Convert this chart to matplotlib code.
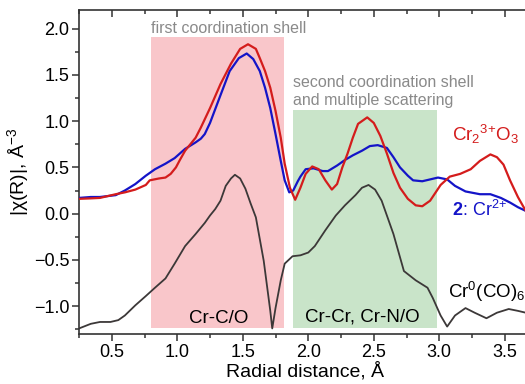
import matplotlib
matplotlib.use('Agg')
import matplotlib.pyplot as plt
from matplotlib.ticker import MultipleLocator

plt.rcParams['font.family'] = ['Liberation Sans', 'DejaVu Sans']
plt.rcParams['mathtext.fontset'] = 'custom'
plt.rcParams['mathtext.rm'] = 'Liberation Sans'
plt.rcParams['mathtext.it'] = 'Liberation Sans:italic'
plt.rcParams['mathtext.bf'] = 'Liberation Sans:bold'

# Cr2O3 (red)
r_red = [0.25, 0.34, 0.41, 0.53, 0.60, 0.68, 0.76, 0.79, 0.86, 0.91, 0.95, 0.99, 1.02, 1.06, 1.10, 1.14,
         1.18, 1.25, 1.33, 1.41, 1.48, 1.54, 1.60, 1.63, 1.67, 1.71, 1.75, 1.79, 1.82, 1.86, 1.90, 1.94,
         1.98, 2.03, 2.08, 2.13, 2.18, 2.22, 2.26, 2.30, 2.34, 2.38, 2.45, 2.50, 2.55, 2.60, 2.65, 2.70,
         2.76, 2.82, 2.87, 2.93, 3.01, 3.08, 3.16, 3.24, 3.31, 3.39, 3.44, 3.49, 3.54, 3.60, 3.66]
chi_red = [0.16, 0.165, 0.17, 0.21, 0.23, 0.26, 0.31, 0.36, 0.38, 0.39, 0.43, 0.50, 0.58, 0.68, 0.75, 0.82,
           0.93, 1.14, 1.40, 1.62, 1.78, 1.83, 1.78, 1.68, 1.54, 1.36, 1.11, 0.82, 0.54, 0.28, 0.15, 0.28,
           0.43, 0.51, 0.48, 0.36, 0.26, 0.32, 0.50, 0.65, 0.82, 0.97, 1.04, 0.98, 0.84, 0.65, 0.44, 0.28,
           0.16, 0.09, 0.08, 0.14, 0.31, 0.40, 0.43, 0.48, 0.57, 0.64, 0.61, 0.53, 0.36, 0.18, 0.03]

# sample 2, Cr2+ (blue)
r_blue = [0.25, 0.34, 0.41, 0.53, 0.60, 0.68, 0.76, 0.83, 0.91, 0.98, 1.06, 1.14, 1.18, 1.21, 1.25, 1.33,
          1.40, 1.47, 1.53, 1.58, 1.63, 1.67, 1.71, 1.75, 1.79, 1.82, 1.855, 1.885, 1.92, 1.94, 1.98, 2.04,
          2.11, 2.15, 2.22, 2.28, 2.34, 2.41, 2.47, 2.53, 2.60, 2.65, 2.70, 2.76, 2.80, 2.87, 2.93, 2.99,
          3.06, 3.12, 3.20, 3.31, 3.39, 3.47, 3.54, 3.60, 3.66]
chi_blue = [0.17, 0.18, 0.18, 0.20, 0.25, 0.32, 0.41, 0.48, 0.54, 0.60, 0.70, 0.77, 0.81, 0.86, 0.98, 1.28,
            1.54, 1.68, 1.73, 1.67, 1.54, 1.36, 1.14, 0.86, 0.57, 0.36, 0.23, 0.25, 0.35, 0.40, 0.48, 0.49,
            0.46, 0.46, 0.52, 0.58, 0.63, 0.68, 0.73, 0.74, 0.71, 0.61, 0.50, 0.41, 0.36, 0.35, 0.37, 0.39,
            0.37, 0.30, 0.24, 0.21, 0.21, 0.17, 0.12, 0.07, 0.03]

# Cr0(CO)6 (dark grey)
r_co = [0.25, 0.34, 0.41, 0.49, 0.55, 0.60, 0.68, 0.76, 0.83, 0.91, 0.98, 1.06, 1.14, 1.21, 1.25, 1.29,
        1.33, 1.37, 1.41, 1.44, 1.48, 1.52, 1.56, 1.60, 1.66, 1.71, 1.725, 1.75, 1.79, 1.82, 1.88, 1.94,
        2.00, 2.05, 2.13, 2.21, 2.28, 2.36, 2.41, 2.46, 2.51, 2.56, 2.65, 2.73, 2.82, 2.91, 2.95, 3.01,
        3.06, 3.12, 3.20, 3.27, 3.36, 3.44, 3.53, 3.60, 3.66]
chi_co = [-1.24, -1.19, -1.17, -1.17, -1.15, -1.10, -0.99, -0.89, -0.80, -0.70, -0.54, -0.35, -0.22, -0.10,
          -0.02, 0.05, 0.14, 0.30, 0.38, 0.42, 0.38, 0.27, 0.11, -0.04, -0.51, -1.05, -1.24, -1.02, -0.72,
          -0.54, -0.46, -0.45, -0.42, -0.35, -0.18, -0.02, 0.09, 0.20, 0.28, 0.31, 0.26, 0.14, -0.22, -0.62,
          -0.72, -0.80, -0.91, -1.10, -1.22, -1.10, -1.02, -1.07, -1.13, -1.07, -1.03, -1.05, -1.07]

# shaded shells: (x0, x1, top)
shell1 = (0.80, 1.815, 1.91)
shell2 = (1.885, 2.98, 1.115)
shell_bottom = -1.23

red = '#d41c1c'
blue = '#1414c8'

fig = plt.figure(figsize=(5.25, 3.84), dpi=100)
ax = fig.add_axes([79/525, 50/384, 452/525, 324/384])

ax.fill_between([shell1[0], shell1[1]], shell_bottom, shell1[2], color='#f9c6ca', lw=0, zorder=0)
ax.fill_between([shell2[0], shell2[1]], shell_bottom, shell2[2], color='#c9e4c9', lw=0, zorder=0)

ax.plot(r_co, chi_co, color='#3c3838', lw=1.3, zorder=2, solid_joinstyle='round')
ax.plot(r_blue, chi_blue, color=blue, lw=1.6, zorder=3, solid_joinstyle='round')
ax.plot(r_red, chi_red, color=red, lw=1.6, zorder=4, solid_joinstyle='round')

ax.set_xlim(0.25, 3.70)
ax.set_ylim(-1.30, 2.20)

ax.xaxis.set_major_locator(MultipleLocator(0.5))
ax.xaxis.set_minor_locator(MultipleLocator(0.25))
ax.yaxis.set_major_locator(MultipleLocator(0.5))
ax.yaxis.set_minor_locator(MultipleLocator(0.25))
ax.tick_params(which='both', direction='out', labelsize=13, width=1.1, color='#333333', pad=2)
ax.tick_params(which='major', length=5)
ax.tick_params(which='minor', length=3)
ax.tick_params(axis='x', which='both', top=True)
for t in ax.xaxis.get_major_ticks() + ax.xaxis.get_minor_ticks():
    t.tick2line.set_marker(3)
for s in ax.spines.values():
    s.set_linewidth(1.2)
    s.set_color('#333333')

ax.set_xlabel('Radial distance, Å', fontsize=14, labelpad=1)
ax.set_ylabel('|χ(R)|, Å$^{-3}$', fontsize=14, labelpad=2)

gray = '#8a8a8a'
ax.text(0.80, 1.955, 'first coordination shell', color=gray, fontsize=11.5, va='baseline', ha='left')
ax.text(1.885, 1.37, 'second coordination shell', color=gray, fontsize=11.5, va='baseline', ha='left')
ax.text(1.885, 1.17, 'and multiple scattering', color=gray, fontsize=11.5, va='baseline', ha='left')
ax.text(1.32, -1.18, 'Cr-C/O', fontsize=13.5, ha='center', va='baseline')
ax.text(2.41, -1.17, 'Cr-Cr, Cr-N/O', fontsize=13.5, ha='center', va='baseline')
ax.text(3.07, -0.91, 'Cr$^{0}$(CO)$_{6}$', fontsize=13.5, ha='left', va='baseline')
ax.text(3.10, 0.79, r'$\mathrm{Cr_{2}{}^{3\!+}\!O_{3}}$', fontsize=13.5, ha='left', va='baseline', color=red)
ax.text(3.10, -0.03, r'$\mathbf{2}$: Cr$^{2\!+}$', fontsize=13, ha='left', va='baseline', color=blue)

fig.savefig('out.png', dpi=100)
